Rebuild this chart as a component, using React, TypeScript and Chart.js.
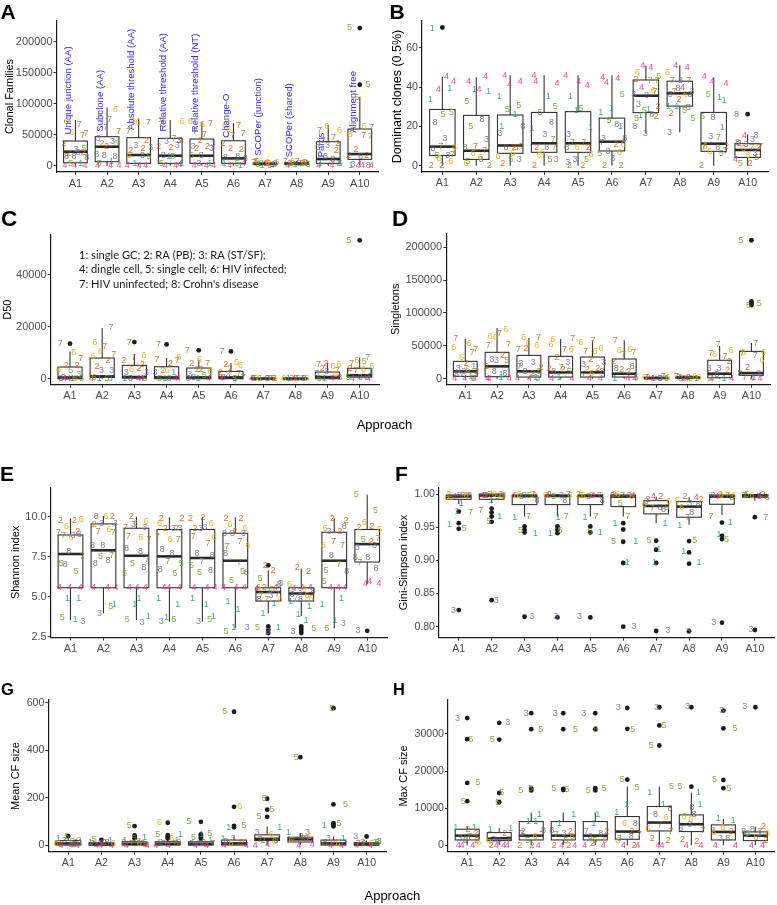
import React, { useEffect, useRef } from 'react';
import { Chart, registerables } from 'chart.js';
Chart.register(...registerables);

const FONT = '"Liberation Sans", Arial, Helvetica, sans-serif';
const CATS = ['A1', 'A2', 'A3', 'A4', 'A5', 'A6', 'A7', 'A8', 'A9', 'A10'];
const GROUP_COLORS = ['#1B9E77', '#D95F02', '#7570B3', '#E7298A', '#66A61E', '#E6AB02', '#A6761D', '#666666'];
const JIT = [-0.3, 0.12, 0.33, -0.12, 0.22, -0.36, 0.02, 0.27, -0.22, 0.08, -0.05, 0.36, -0.28, 0.17, -0.16, 0.3, -0.02, -0.33, 0.25, -0.09, 0.14, -0.25, 0.38];

// ---------- A: Clonal Families ----------
const A_YTICKS = [0, 50000, 100000, 150000, 200000];
const A_YLABELS = ['0', '50000', '100000', '150000', '200000'];
const A_Q1 = [4800, 6450, 3800, 3800, 3800, 3800, 2000, 2500, 3800, 10200];
const A_MED = [22600, 30600, 17200, 16100, 16100, 11800, 3000, 3500, 10800, 18800];
const A_Q3 = [39800, 46800, 45200, 44100, 43000, 40300, 4500, 5000, 38700, 59100];
const A_LO = [0, 0, 0, 0, 0, 0, 500, 500, 0, 1000];
const A_HI = [73600, 94000, 76300, 73600, 71000, 68300, 7000, 7500, 65600, 111300];
const A_OUT = [[10, 222000], [10, 130600]];
const A_PTS = [
  [[6,71000],[7,67000],[7,52000],[6,54000],[7,49000],[2,35000],[3,26000],[5,27000],[2,20000],[3,22000],[8,14500],[8,14000],[8,15000],[1,4000],[5,4000],[4,0],[4,0],[4,0],[2,21000]],
  [[6,91000],[6,83000],[7,74000],[7,62000],[7,55000],[3,44000],[3,38700],[2,36000],[5,36000],[2,30600],[8,18300],[8,14500],[8,16000],[1,6400],[5,3800],[4,0],[4,0],[4,0]],
  [[6,71000],[7,70000],[6,69000],[7,55000],[2,41000],[3,32000],[2,28000],[2,25000],[3,30000],[6,17000],[8,16000],[5,15000],[1,3800],[4,0],[4,0],[4,0]],
  [[6,74000],[6,71000],[7,67000],[7,44000],[2,40300],[3,38700],[3,32000],[2,30600],[2,29000],[3,40000],[8,17200],[5,15500],[1,14500],[1,3800],[5,3800],[4,0],[4,0],[4,1500]],
  [[6,71000],[6,66700],[7,68000],[7,54800],[7,49500],[2,41400],[3,36000],[3,30600],[2,30600],[2,28000],[3,27000],[8,17200],[5,16100],[1,3800],[3,3800],[4,0],[4,0],[4,0]],
  [[6,65600],[7,65000],[6,58600],[7,52100],[7,48000],[2,36000],[2,26300],[2,28000],[8,14500],[8,13500],[8,12000],[1,3800],[5,3800],[4,3800],[4,0],[1,0]],
  [[1,1000],[5,1000],[6,6000],[6,5500],[7,6000],[2,4000],[3,3000],[8,3500],[4,500],[7,4500],[2,3000],[1,1500],[5,2000],[6,5000]],
  [[6,6000],[6,5000],[7,7500],[7,6500],[2,4500],[3,3000],[8,4000],[1,1500],[5,1500],[4,500],[2,3500],[6,4000],[8,3000]],
  [[6,64000],[6,56400],[7,57000],[7,45200],[7,41000],[2,35000],[3,32300],[3,29000],[2,24000],[8,14500],[8,10200],[1,3800],[5,3800],[4,0],[4,0],[3,3800]],
  [[5,223000],[5,130600],[5,110000],[6,62900],[6,57500],[7,62000],[6,49500],[7,48000],[7,47000],[2,26900],[2,17200],[2,16000],[8,14500],[8,1000],[3,2500],[4,0],[4,0],[4,0],[1,500]],
];
const A_METHODS = ['Unique junction (AA)', 'Subclone (AA)', 'Absolute threshold (AA)', 'Relative threshold (AA)', 'Relative threshold (NT)', 'Change-O', 'SCOPer (junction)', 'SCOPer (shared)', 'Partis', 'Alignment free'];
const A_METHOD_Y = [50500, 54800, 57500, 55000, 54000, 45000, 16000, 13500, 13500, 53000];

// ---------- B: Dominant clones ----------
const B_YTICKS = [0, 20, 40, 60];
const B_YLABELS = ['0', '20', '40', '60'];
const B_Q1 = [5.2, 3.2, 6.3, 6.8, 6.8, 7.5, 27, 30.3, 7.3, 4.2];
const B_MED = [9.7, 7.6, 10.3, 11.4, 11.4, 12.2, 35.6, 36.8, 11.2, 8];
const B_Q3 = [28.6, 25.6, 25.8, 27.1, 27.5, 24.2, 43.6, 43, 27.1, 11.2];
const B_LO = [0, 0, 0, 0, 0, 0, 16.4, 17, 0, 0];
const B_HI = [45.3, 45, 46, 46, 46, 46, 51, 51, 45, 16];
const B_OUT = [[1, 70.3], [10, 26.2]];
const B_PTS = [
  [[1,70],[4,45.5],[4,43],[4,39],[1,39.5],[1,33.5],[5,26],[5,27],[8,22],[3,14],[7,10],[6,9.5],[8,8.5],[3,5],[5,5],[7,5.5],[2,0],[2,0],[6,2],[6,3.5]],
  [[4,45.5],[4,43],[4,39],[1,38.5],[1,37.5],[5,32.5],[8,23.5],[5,20],[3,13.5],[7,10],[8,9],[7,7.5],[6,6],[3,3],[5,2],[2,0],[6,1],[6,4]],
  [[4,46],[4,43],[4,41.5],[1,35],[5,30.5],[5,28.5],[1,26],[1,20],[8,20],[3,16.5],[2,9],[7,10],[8,9.5],[7,9],[6,4.5],[5,3],[3,3],[2,1],[6,6]],
  [[4,43],[4,42],[4,46],[1,35],[5,30],[5,27],[8,22],[1,19],[3,16],[7,13.5],[2,9.5],[8,9.5],[6,6.5],[3,3],[2,0],[5,3],[6,5],[7,9]],
  [[4,46],[4,43],[4,41],[1,35],[5,29],[1,28],[1,19.5],[3,16],[7,12],[7,12],[2,9.5],[6,9.5],[8,9.5],[5,3],[3,3],[2,0],[2,0],[6,5.5],[3,1.5]],
  [[4,45],[4,44.5],[4,42.5],[5,36],[1,29],[1,27],[1,20],[5,23],[8,21],[3,14],[8,14],[7,12],[2,11],[6,11],[3,7],[6,6.5],[5,6],[3,3.5],[2,0],[2,0]],
  [[4,51],[4,50],[6,47.5],[5,45.5],[2,44],[7,43.5],[7,43.5],[4,40],[6,38],[3,36],[8,35.5],[7,37.5],[3,31],[1,28.5],[5,28],[2,30],[5,24],[8,26],[1,25.5],[2,25],[3,16.5],[8,20]],
  [[4,51],[4,50],[6,47.5],[3,43.5],[7,43.5],[7,43.5],[4,40],[8,39.5],[3,37.5],[3,36],[6,36],[7,37.5],[8,36],[2,33.5],[1,30],[8,29.5],[1,30],[5,28],[2,26.5],[5,24],[3,17]],
  [[4,43],[4,42],[4,45.5],[1,34.5],[5,36],[1,33],[8,24.5],[5,25],[1,19.5],[3,15],[7,14.5],[6,10],[2,10],[7,9.5],[8,9.5],[3,7.5],[6,7],[5,6],[2,0]],
  [[8,26],[3,15.5],[4,15.5],[3,13.5],[2,11.5],[7,10],[8,12],[7,9.5],[2,9],[6,8.5],[3,6],[4,3],[6,5],[5,4.2],[5,1],[2,1],[3,11]],
];

// ---------- C: D50 ----------
const C_YTICKS = [0, 20000, 40000];
const C_YLABELS = ['0', '20000', '40000'];
const C_Q1 = [0, 500, 250, 0, 0, 0, 0, 0, 0, 600];
const C_MED = [500, 900, 640, 500, 500, 500, 50, 50, 640, 1300];
const C_Q3 = [4490, 7950, 5130, 4600, 4100, 2800, 150, 150, 2560, 4000];
const C_LO = [0, 0, 0, 0, 0, 0, 0, 0, 0, 0];
const C_HI = [10500, 19500, 9200, 7950, 7300, 6000, 300, 300, 6000, 8200];
const C_OUT = [[1, 13460], [3, 14100], [4, 13200], [5, 10900], [6, 10500], [10, 53200]];
const C_PTS = [
  [[7,13500],[6,10100],[7,7700],[2,5000],[2,5000],[6,3500],[5,3000],[3,1500],[3,600],[1,0],[4,0],[5,0],[8,0],[6,0],[4,0]],
  [[7,19500],[6,14100],[7,12400],[6,10300],[7,9200],[6,8500],[2,7000],[2,4500],[3,3200],[3,3200],[4,0],[8,0],[1,0],[5,0],[6,300]],
  [[7,14100],[6,9000],[7,8000],[2,6900],[2,5600],[6,3500],[2,3800],[3,2400],[3,2200],[1,0],[4,0],[5,0],[8,0],[4,200]],
  [[7,13200],[6,8000],[7,7200],[2,6000],[7,6900],[2,3100],[1,2400],[3,2400],[6,3100],[4,0],[5,0],[8,0],[1,0],[4,0]],
  [[7,10900],[6,7300],[7,6000],[2,5800],[2,3500],[2,3400],[6,2800],[3,1500],[5,1300],[8,300],[4,0],[1,0],[3,0]],
  [[7,10500],[6,6300],[2,5600],[6,5100],[2,3800],[2,2200],[7,1900],[3,1500],[1,0],[8,300],[7,300],[4,0],[5,0]],
  [[1,0],[3,0],[5,0],[6,100],[7,100],[8,0],[2,50],[6,50],[7,0],[4,0]],
  [[2,0],[3,0],[6,0],[7,100],[8,50],[1,0],[5,0],[4,0],[6,50]],
  [[2,6000],[6,5600],[7,5400],[6,4700],[2,3800],[7,3100],[3,2600],[3,1900],[6,1500],[1,0],[4,0],[5,0],[8,300]],
  [[5,53200],[7,8200],[6,6900],[5,6700],[7,6000],[6,4700],[2,3800],[6,3500],[1,2800],[7,3100],[8,300],[5,300],[3,600],[4,0],[4,0]],
];
const C_LEGEND = ['1: single GC; 2: RA (PB); 3: RA (ST/SF);', '4: dingle cell, 5: single cell; 6: HIV infected;', "7: HIV uninfected; 8: Crohn's disease"];

// ---------- D: Singletons ----------
const D_YTICKS = [0, 50000, 100000, 150000, 200000];
const D_YLABELS = ['0', '50000', '100000', '150000', '200000'];
const D_Q1 = [3550, 3050, 2500, 2500, 2500, 2500, 500, 1000, 1500, 5100];
const D_MED = [11200, 18800, 11200, 9600, 9600, 7600, 1000, 1800, 7600, 8600];
const D_Q3 = [26400, 40100, 35500, 34000, 33000, 30000, 2000, 2600, 28000, 41600];
const D_LO = [0, 0, 0, 0, 0, 0, 0, 0, 0, 0];
const D_HI = [60400, 77200, 62000, 60400, 58400, 58400, 3500, 4000, 50300, 54300];
const D_OUT = [[10, 210700], [10, 117800], [10, 115000], [10, 112000]];
const D_PTS = [
  [[7,60400],[6,53300],[7,44200],[6,33000],[7,40600],[6,47000],[2,22800],[1,18800],[3,15200],[6,13700],[3,11200],[2,11200],[8,6100],[1,3500],[3,6100],[4,0],[4,0],[4,0],[5,1000]],
  [[6,74600],[6,64500],[7,68500],[6,62000],[7,51800],[7,51000],[2,35500],[3,29000],[5,27400],[3,27000],[2,18800],[8,8600],[8,11200],[1,6100],[4,0],[4,0],[4,0],[1,2500]],
  [[6,62000],[7,63000],[6,53300],[7,44200],[6,50000],[2,45700],[3,24900],[3,22800],[2,17300],[7,17800],[2,8600],[5,11200],[8,10200],[1,2500],[4,0],[4,0],[3,1000]],
  [[6,59400],[7,60400],[6,51800],[7,44200],[6,44000],[2,31500],[3,23900],[2,16200],[7,17300],[5,11200],[8,10200],[2,13700],[1,2500],[4,0],[4,0]],
  [[6,55800],[7,57900],[6,46700],[7,41600],[6,42000],[2,28900],[3,23900],[3,22300],[2,15200],[2,13700],[8,10200],[6,8600],[5,6100],[4,0],[4,0]],
  [[7,58400],[6,44200],[6,42600],[7,40100],[7,37000],[2,26400],[8,18300],[2,13700],[2,11200],[8,16200],[5,2000],[1,1000],[4,0],[4,0]],
  [[1,500],[3,1000],[2,1500],[6,2000],[7,2500],[8,1000],[5,500],[4,0],[7,3000],[6,1500]],
  [[2,1000],[6,3000],[7,3000],[8,2000],[1,500],[3,1000],[5,500],[4,0],[6,2000],[7,1500]],
  [[7,51800],[6,43100],[7,38100],[7,34000],[6,37500],[2,26400],[3,16200],[3,16000],[2,12200],[8,6100],[1,1000],[4,0],[4,0],[5,1000]],
  [[5,210000],[5,115000],[5,111000],[7,54300],[6,40600],[6,40000],[7,38000],[7,36000],[6,27900],[2,17300],[3,8600],[8,8600],[4,0],[4,0],[7,2000],[1,1500]],
];

// ---------- E: Shannon index ----------
const E_YTICKS = [2.5, 5, 7.5, 10];
const E_YLABELS = ['2.5', '5.0', '7.5', '10.0'];
const E_Q1 = [5.56, 5.56, 5.56, 5.56, 5.56, 5.56, 4.73, 4.73, 5.56, 7.17];
const E_MED = [7.67, 7.9, 7.56, 7.52, 7.42, 7.25, 5.29, 5.2, 7.25, 8.29];
const E_Q3 = [8.86, 9.55, 9.28, 9.2, 9.2, 8.97, 5.56, 5.56, 9.03, 9.2];
const E_LO = [3.54, 3.96, 3.54, 3.44, 3.44, 3.03, 3.95, 3.8, 3.03, 5.8];
const E_HI = [9.9, 10.05, 10, 9.96, 10, 9.96, 6.65, 6.76, 9.9, 11.38];
const E_OUT = [[7, 6.96], [7, 3.14], [7, 2.94], [7, 2.73], [8, 3.14], [8, 3.0], [8, 2.87], [8, 2.73], [10, 2.87]];
const E_PTS = [
  [[2,9.75],[2,9.75],[6,9.85],[6,9.4],[2,9.05],[7,9.0],[6,8.7],[3,8.86],[7,8.85],[3,8.85],[8,7.85],[7,7.5],[5,7.1],[5,6.6],[8,7.0],[4,5.56],[4,5.56],[4,5.56],[1,4.9],[1,4.9],[1,3.6],[5,3.7],[3,3.45]],
  [[2,10],[8,10.02],[6,10.02],[3,9.6],[3,9.6],[2,9.5],[6,9.17],[7,9.05],[7,9.0],[8,8.2],[8,8.2],[7,7.6],[5,7.5],[8,7.25],[8,7.1],[4,5.56],[4,5.56],[4,5.6],[1,4.53],[3,3.97],[5,4.4]],
  [[2,10],[6,9.73],[6,9.6],[7,9.3],[3,9.34],[3,9.5],[6,8.72],[7,8.75],[7,8.55],[8,8.04],[8,7.8],[7,7.35],[5,7.05],[8,6.8],[5,6.45],[4,5.56],[4,5.56],[4,5.56],[1,4.9],[1,4.5],[1,3.78],[5,3.6],[3,3.4]],
  [[2,9.9],[2,9.9],[6,9.6],[3,9.28],[3,9.28],[2,9.28],[7,9.28],[7,8.75],[6,8.55],[7,8.55],[8,7.95],[8,7.7],[7,7.2],[5,7.1],[8,6.7],[5,6.45],[4,5.56],[4,5.56],[4,5.56],[1,4.9],[1,4.5],[1,3.7],[5,3.6],[3,3.45]],
  [[2,9.9],[2,9.95],[6,9.6],[2,9.28],[3,9.3],[3,9.28],[6,8.72],[7,8.75],[7,8.35],[8,7.7],[8,7.55],[7,7.2],[5,6.95],[8,6.65],[5,6.5],[4,5.56],[4,5.56],[4,5.56],[1,4.9],[1,4.5],[1,3.78],[3,3.44],[5,3.6]],
  [[2,9.9],[2,9.9],[6,9.5],[6,9.28],[2,9.07],[8,8.97],[3,8.97],[8,8.95],[7,8.45],[7,8.15],[6,8.2],[8,7.7],[7,7.15],[8,6.5],[5,6.0],[5,6.6],[4,5.56],[4,5.56],[4,5.56],[1,4.7],[1,4.2],[1,3.1],[3,3.1],[5,2.85]],
  [[2,6.96],[2,6.65],[5,6.15],[3,5.83],[6,5.6],[5,5.45],[8,5.75],[2,5.55],[4,5.56],[4,5.5],[1,5.4],[7,5.15],[7,5.1],[3,5.1],[7,4.85],[6,4.8],[8,4.85],[1,4.6],[1,3.95],[1,3.1],[3,2.8],[5,3.1]],
  [[2,6.8],[2,6.55],[6,5.75],[4,5.56],[4,5.56],[4,5.5],[6,5.45],[3,5.3],[8,5.35],[3,5.15],[6,5.05],[7,4.95],[6,4.9],[8,4.85],[1,4.7],[1,4.4],[1,3.9],[1,3.5],[3,2.8],[5,3.0]],
  [[2,9.9],[2,9.75],[6,9.28],[2,9.07],[3,9.07],[8,9.38],[7,8.45],[6,8.2],[7,8.2],[8,7.6],[7,7.0],[5,6.65],[8,6.55],[5,5.95],[4,5.56],[4,5.56],[4,5.56],[1,4.9],[1,4.5],[1,3.5],[3,3.3],[5,3.0]],
  [[5,11.4],[5,10.4],[6,9.63],[2,9.38],[2,9.35],[6,9.17],[3,8.1],[2,8.45],[7,8.66],[5,8.55],[3,8.2],[8,7.42],[8,7.45],[8,6.74],[7,7.15],[4,5.97],[4,5.8],[4,5.85],[3,2.87]],
];

// ---------- F: Gini-Simpson index ----------
const F_YTICKS = [0.8, 0.85, 0.9, 0.95, 1.0];
const F_YLABELS = ['0.80', '0.85', '0.90', '0.95', '1.00'];
const F_Q1 = [0.992, 0.992, 0.984, 0.984, 0.984, 0.981, 0.970, 0.965, 0.9845, 0.995];
const F_MED = [0.996, 0.9975, 0.997, 0.997, 0.997, 0.996, 0.982, 0.981, 0.996, 0.9975];
const F_Q3 = [0.9985, 1.0, 0.9985, 0.9985, 0.9985, 0.9985, 0.990, 0.9885, 0.9985, 0.9992];
const F_LO = [0.985, 0.986, 0.966, 0.966, 0.966, 0.966, 0.956, 0.9535, 0.9685, 0.99];
const F_HI = [1.0, 1.0, 1.0, 1.0, 1.0, 1.0, 0.996, 0.995, 1.0, 1.0];
const F_OUT = [[1,0.9735],[1,0.956],[1,0.9475],[1,0.825],[2,0.978],[2,0.972],[2,0.966],[2,0.958],[2,0.84],[3,0.951],[3,0.946],[3,0.942],[3,0.815],[4,0.951],[4,0.946],[4,0.941],[4,0.814],[5,0.951],[5,0.942],[5,0.814],[6,0.956],[6,0.9465],[6,0.928],[6,0.896],[6,0.80],[7,0.9295],[7,0.916],[7,0.896],[7,0.7935],[8,0.929],[8,0.912],[8,0.895],[8,0.793],[9,0.957],[9,0.937],[9,0.932],[9,0.806],[10,0.965],[10,0.795]];
const F_PTS = [
  [[2,0.999],[2,0.997],[3,0.998],[4,0.996],[6,0.997],[6,0.995],[8,0.998],[7,0.996],[5,0.994],[1,0.985],[1,0.9735],[7,0.9725],[1,0.9545],[5,0.9475],[3,0.825]],
  [[2,0.999],[3,0.998],[6,0.999],[7,0.9985],[8,0.997],[4,0.997],[5,0.996],[2,0.998],[6,0.997],[1,0.9895],[7,0.975],[1,0.966],[5,0.9585],[3,0.84]],
  [[6,0.999],[2,0.998],[3,0.997],[4,0.998],[7,0.9985],[8,0.996],[5,0.997],[6,0.998],[8,0.9895],[1,0.965],[7,0.966],[1,0.941],[5,0.9445],[3,0.815]],
  [[2,0.999],[6,0.998],[4,0.997],[3,0.998],[7,0.999],[5,0.996],[8,0.9895],[6,0.997],[1,0.965],[7,0.966],[1,0.941],[5,0.9445],[3,0.815]],
  [[2,0.999],[2,0.998],[7,0.998],[6,0.997],[4,0.998],[3,0.996],[8,0.99],[5,0.997],[7,0.966],[1,0.965],[1,0.942],[5,0.943],[3,0.815]],
  [[2,0.999],[3,0.998],[6,0.999],[4,0.997],[7,0.998],[8,0.997],[6,0.996],[5,0.986],[7,0.966],[1,0.956],[1,0.928],[5,0.928],[1,0.896],[3,0.80]],
  [[4,0.996],[2,0.9955],[2,0.991],[6,0.9885],[3,0.9885],[8,0.979],[5,0.98],[7,0.978],[8,0.976],[6,0.984],[7,0.966],[1,0.955],[5,0.9295],[1,0.916],[1,0.896],[3,0.7935]],
  [[2,0.996],[4,0.995],[6,0.99],[3,0.986],[8,0.984],[6,0.98],[8,0.972],[7,0.965],[2,0.992],[1,0.9525],[5,0.9295],[1,0.9135],[1,0.896],[3,0.793]],
  [[2,0.999],[6,0.998],[3,0.997],[7,0.998],[4,0.996],[8,0.995],[6,0.997],[7,0.966],[1,0.9575],[1,0.9385],[5,0.932],[3,0.806]],
  [[1,0.997],[2,0.999],[6,0.998],[4,0.997],[5,0.999],[8,0.994],[7,0.998],[3,0.996],[7,0.965],[3,0.795]],
];

// ---------- G: Mean CF size ----------
const G_YTICKS = [0, 200, 400, 600];
const G_YLABELS = ['0', '200', '400', '600'];
const G_Q1 = [1, 1, 1, 1, 1, 1, 20, 14, 1, 1];
const G_MED = [8, 4, 6, 6, 6, 8, 27, 25, 8, 4];
const G_Q3 = [20, 11, 15, 15, 15, 22, 44, 34, 22, 11];
const G_LO = [0, 0, 0, 0, 0, 0, 0, 0, 0, 0];
const G_HI = [30, 20, 24, 24, 24, 37, 79, 51, 37, 20];
const G_OUT = [[1,39],[2,23],[3,81],[3,42],[3,36],[3,30],[4,95],[4,43],[4,35],[4,29],[5,99],[5,46],[5,40],[5,33],[5,28],[6,562],[6,162],[6,82],[6,76],[7,196],[7,150],[7,120],[8,371],[9,577],[9,172],[9,93],[9,88],[9,80],[10,37]];
const G_PTS = [
  [[1,30],[5,18],[2,20],[3,19],[8,11],[6,6],[7,6],[4,0],[4,0],[4,1],[5,39],[1,12],[2,8],[8,4]],
  [[1,20],[5,23],[2,11],[3,8],[6,6],[7,6],[8,11],[4,0],[4,0],[4,1],[1,13]],
  [[5,82],[1,34],[5,30],[2,11],[3,8],[7,6],[6,6],[4,0],[4,0],[1,22],[8,14],[2,4]],
  [[6,95],[1,44],[5,46],[6,28],[2,11],[3,9],[7,6],[4,0],[4,0],[1,20],[8,13]],
  [[5,100],[1,44],[5,50],[5,34],[2,11],[3,9],[7,6],[8,8],[4,0],[4,0],[1,20]],
  [[5,562],[6,163],[1,76],[5,82],[3,30],[1,30],[2,11],[6,6],[7,6],[8,15],[4,0],[4,0]],
  [[5,196],[5,151],[5,120],[1,76],[3,55],[6,44],[7,34],[2,22],[6,15],[4,0],[4,2],[8,22],[7,25]],
  [[5,371],[3,55],[1,55],[8,37],[6,37],[7,22],[2,30],[4,0],[4,2],[6,20],[3,28]],
  [[5,577],[5,172],[1,83],[5,93],[3,30],[1,30],[2,8],[7,6],[4,0],[4,0],[6,6],[8,11]],
  [[3,37],[1,11],[2,8],[6,6],[7,8],[8,15],[4,0],[4,0],[5,10],[3,12]],
];

// ---------- H: Max CF size ----------
const H_YTICKS = [0, 10000, 20000, 30000];
const H_YLABELS = ['0', '10000', '20000', '30000'];
const H_Q1 = [1440, 1260, 1440, 1440, 1440, 1620, 3870, 3700, 1440, 1260];
const H_MED = [2600, 1890, 2600, 2600, 2600, 3700, 6130, 5680, 3600, 2600];
const H_Q3 = [4330, 3420, 6400, 6400, 6400, 7750, 10450, 8200, 5500, 3600];
const H_LO = [0, 0, 0, 0, 0, 0, 0, 0, 0, 0];
const H_HI = [5050, 4600, 8830, 8830, 8830, 15860, 15860, 14240, 7100, 5000];
const H_OUT = [[1,34300],[1,28600],[1,16800],[1,11900],[2,33000],[2,28500],[2,14100],[2,11600],[3,35600],[3,31300],[3,15300],[3,14800],[4,35600],[4,31300],[4,15200],[4,14900],[5,35600],[5,31300],[5,15400],[5,14800],[6,37000],[6,31400],[6,17700],[7,37200],[7,32300],[7,26900],[8,37200],[8,15800],[9,36300],[9,31500],[9,17600],[9,15400],[10,37200]];
const H_PTS = [
  [[3,34300],[5,28600],[5,16800],[5,11900],[1,4900],[1,4900],[2,4300],[2,3200],[3,1900],[7,2300],[8,1400],[6,700],[4,0],[4,0],[4,0],[2,1300],[7,1600]],
  [[3,33000],[5,28500],[5,14100],[5,11600],[1,4600],[1,4300],[2,3200],[3,1600],[7,1600],[8,1400],[6,1400],[4,0],[4,0],[4,0],[2,0]],
  [[3,35600],[5,31300],[5,15300],[5,14800],[1,8400],[1,6400],[1,6400],[2,3600],[8,4000],[3,3100],[6,2300],[7,2800],[5,1400],[4,0],[2,0],[2,0]],
  [[3,35600],[5,31300],[5,15200],[5,14900],[1,8400],[1,6000],[2,3600],[8,4000],[3,3100],[6,2300],[7,2800],[5,1400],[4,0],[4,0],[2,0],[2,0]],
  [[3,35600],[5,31300],[5,15400],[5,14800],[1,8400],[1,6000],[2,3600],[7,3800],[8,3100],[3,2300],[6,1400],[5,1400],[4,0],[4,0],[2,500]],
  [[3,37100],[5,31300],[5,17700],[5,15500],[1,11100],[1,8800],[8,6000],[6,5900],[2,3700],[3,1900],[7,2800],[6,1400],[8,2500],[4,0],[4,0],[2,0]],
  [[3,37200],[5,32300],[5,26900],[5,15800],[1,14300],[1,11100],[8,10000],[8,8200],[6,7500],[6,4600],[7,5500],[2,1400],[2,1900],[4,0],[4,0],[7,3700]],
  [[3,37300],[1,14200],[5,15800],[8,10300],[1,11100],[6,7700],[8,8400],[3,5500],[7,4000],[2,1600],[2,1000],[4,0],[4,0],[6,7000],[3,4500]],
  [[3,36400],[5,31500],[5,17600],[5,15300],[1,7100],[1,6800],[6,4900],[7,3900],[2,3600],[3,1900],[8,1900],[4,0],[4,0],[6,3400]],
  [[3,37300],[2,5000],[8,4300],[7,3700],[5,3200],[6,3100],[1,2800],[3,3200],[2,1400],[4,0],[4,0],[8,3600],[6,2000]],
];

// ---------- drawing helpers ----------
function drawVText(ctx, text, x, y, size, color) {
  ctx.save();
  ctx.translate(x, y);
  ctx.rotate(-Math.PI / 2);
  ctx.font = `${size}px ${FONT}`;
  ctx.fillStyle = color;
  ctx.textAlign = 'center';
  ctx.textBaseline = 'middle';
  ctx.fillText(text, 0, 0);
  ctx.restore();
}
function drawText(ctx, text, x, y, font, color, align = 'center') {
  ctx.save();
  ctx.font = font;
  ctx.fillStyle = color;
  ctx.textAlign = align;
  ctx.textBaseline = 'middle';
  ctx.fillText(text, x, y);
  ctx.restore();
}

const extraA = (chart) => {
  const ctx = chart.ctx, xs = chart.scales.x, ys = chart.scales.y;
  ctx.save();
  ctx.font = `9.6px ${FONT}`;
  ctx.fillStyle = '#2f2ff0';
  ctx.textAlign = 'left';
  ctx.textBaseline = 'middle';
  A_METHODS.forEach((m, i) => {
    ctx.save();
    ctx.translate(xs.getPixelForValue(i + 1 - 0.22), ys.getPixelForValue(A_METHOD_Y[i]));
    ctx.rotate(-Math.PI / 2);
    ctx.fillText(m, 0, 0);
    ctx.restore();
  });
  ctx.restore();
};
const extraC = (chart) => {
  const ctx = chart.ctx;
  ctx.save();
  ctx.font = `10px Lato, "Noto Sans", sans-serif`;
  const w = ctx.measureText(C_LEGEND[1]).width;
  const size = 10 * 208 / w;
  ctx.font = `${size}px Lato, "Noto Sans", sans-serif`;
  ctx.fillStyle = '#1a1a1a';
  ctx.textAlign = 'left';
  ctx.textBaseline = 'middle';
  [255.7, 269.9, 284.7].forEach((y, i) => ctx.fillText(C_LEGEND[i], 79, y));
  ctx.restore();
  drawText(ctx, 'Approach', 384.5, 425, `13px ${FONT}`, '#000');
};
const extraG = (chart) => {
  drawText(chart.ctx, 'Approach', 392.3, 896.5, `13px ${FONT}`, '#000');
};

const PANELS = [
  { key: 'A', area: [56.5, 21, 378.8, 172], yMin: -10160, yMax: 233390, yTicks: A_YTICKS, yLabels: A_YLABELS,
    q1: A_Q1, med: A_MED, q3: A_Q3, lo: A_LO, hi: A_HI, out: A_OUT, pts: A_PTS,
    title: 'Clonal Families', titlePos: [9.5, 96.5], titleSize: 11, letterPos: [0.5, 18.5], letterSize: 21, tickSize: 11, extra: extraA },
  { key: 'B', area: [422, 21, 768, 172], yMin: -3.2, yMax: 73.6, yTicks: B_YTICKS, yLabels: B_YLABELS,
    q1: B_Q1, med: B_MED, q3: B_Q3, lo: B_LO, hi: B_HI, out: B_OUT, pts: B_PTS,
    title: 'Dominant clones (0.5%)', titlePos: [398, 96.5], titleSize: 12.5, letterPos: [389.5, 18.5], letterSize: 21, tickSize: 10.6 },
  { key: 'C', area: [50.7, 234.7, 379, 384.7], yMin: -2308, yMax: 55380, yTicks: C_YTICKS, yLabels: C_YLABELS,
    q1: C_Q1, med: C_MED, q3: C_Q3, lo: C_LO, hi: C_HI, out: C_OUT, pts: C_PTS,
    title: 'D50', titlePos: [8.3, 309.7], titleSize: 11, letterPos: [1, 226.3], letterSize: 22.5, tickSize: 11, extra: extraC },
  { key: 'D', area: [446.2, 234, 770.5, 384.7], yMin: -9132, yMax: 220230, yTicks: D_YTICKS, yLabels: D_YLABELS,
    q1: D_Q1, med: D_MED, q3: D_Q3, lo: D_LO, hi: D_HI, out: D_OUT, pts: D_PTS,
    title: 'Singletons', titlePos: [396.3, 309.3], titleSize: 11, letterPos: [392, 226.3], letterSize: 22.5, tickSize: 11 },
  { key: 'E', area: [50.7, 487.3, 387, 637.5], yMin: 2.45, yMax: 11.84, yTicks: E_YTICKS, yLabels: E_YLABELS,
    q1: E_Q1, med: E_MED, q3: E_Q3, lo: E_LO, hi: E_HI, out: E_OUT, pts: E_PTS,
    title: 'Shannon index', titlePos: [15.8, 562.4], titleSize: 11, letterPos: [0, 481], letterSize: 21, tickSize: 11 },
  { key: 'F', area: [439, 487.3, 775, 637.7], yMin: 0.7834, yMax: 1.0101, yTicks: F_YTICKS, yLabels: F_YLABELS,
    q1: F_Q1, med: F_MED, q3: F_Q3, lo: F_LO, hi: F_HI, out: F_OUT, pts: F_PTS,
    title: 'Gini-Simpson index', titlePos: [404, 562.5], titleSize: 11, letterPos: [395, 481], letterSize: 21, tickSize: 10.6 },
  { key: 'G', area: [48.4, 700, 386.5, 851.7], yMin: -26.9, yMax: 611.4, yTicks: G_YTICKS, yLabels: G_YLABELS,
    q1: G_Q1, med: G_MED, q3: G_Q3, lo: G_LO, hi: G_HI, out: G_OUT, pts: G_PTS,
    title: 'Mean CF size', titlePos: [16, 776], titleSize: 11, letterPos: [1, 694.5], letterSize: 16.5, tickSize: 10.6, extra: extraG },
  { key: 'H', area: [448, 700, 776, 851.7], yMin: -1725, yMax: 39160, yTicks: H_YTICKS, yLabels: H_YLABELS,
    q1: H_Q1, med: H_MED, q3: H_Q3, lo: H_LO, hi: H_HI, out: H_OUT, pts: H_PTS,
    title: 'Max CF size', titlePos: [404, 776], titleSize: 11, letterPos: [393, 695], letterSize: 16.5, tickSize: 10.6 },
];

function Panel({ cfg }) {
  const ref = useRef(null);
  useEffect(() => {
    const canvas = ref.current;
    const [l, t, r, b] = cfg.area;
    const WY = 46, HX = 30;
    const outData = cfg.out.map(([c, v]) => ({ x: c, y: v }));
    const lblData = [];
    cfg.pts.forEach((arr, a) => arr.forEach(([g, v], k) => {
      lblData.push({ x: a + 1 + JIT[(k + a * 7) % JIT.length], y: v, g });
    }));
    const tickFont = { family: FONT, size: cfg.tickSize };

    const boxPlugin = {
      id: 'boxes' + cfg.key,
      beforeDatasetsDraw(chart) {
        const ctx = chart.ctx, xs = chart.scales.x, ys = chart.scales.y;
        const u = xs.getPixelForValue(2) - xs.getPixelForValue(1);
        const hw = u * 0.375;
        ctx.save();
        for (let i = 0; i < CATS.length; i++) {
          const xc = xs.getPixelForValue(i + 1);
          const y1 = ys.getPixelForValue(cfg.q1[i]);
          const y3 = ys.getPixelForValue(cfg.q3[i]);
          const ym = ys.getPixelForValue(cfg.med[i]);
          const ylo = ys.getPixelForValue(cfg.lo[i]);
          const yhi = ys.getPixelForValue(cfg.hi[i]);
          ctx.strokeStyle = '#333333';
          ctx.lineWidth = 1.1;
          ctx.beginPath();
          ctx.moveTo(xc, yhi); ctx.lineTo(xc, y3);
          ctx.moveTo(xc, y1); ctx.lineTo(xc, ylo);
          ctx.stroke();
          ctx.fillStyle = '#ffffff';
          ctx.fillRect(xc - hw, y3, 2 * hw, y1 - y3);
          ctx.strokeRect(xc - hw, y3, 2 * hw, y1 - y3);
          ctx.lineWidth = 2.6;
          ctx.strokeStyle = '#2a2a2a';
          ctx.beginPath();
          ctx.moveTo(xc - hw, ym); ctx.lineTo(xc + hw, ym);
          ctx.stroke();
        }
        ctx.restore();
      },
      afterDatasetsDraw(chart) {
        const ctx = chart.ctx, xs = chart.scales.x, ys = chart.scales.y;
        ctx.save();
        ctx.font = `9px ${FONT}`;
        ctx.textAlign = 'center';
        ctx.textBaseline = 'middle';
        ctx.globalAlpha = 0.88;
        for (const p of lblData) {
          ctx.fillStyle = GROUP_COLORS[p.g - 1];
          ctx.fillText(String(p.g), xs.getPixelForValue(p.x), ys.getPixelForValue(p.y));
        }
        ctx.restore();
      },
      afterDraw(chart) {
        const ctx = chart.ctx;
        drawVText(ctx, cfg.title, cfg.titlePos[0], cfg.titlePos[1], cfg.titleSize, '#000');
        ctx.save();
        ctx.font = `bold ${cfg.letterSize}px ${FONT}`;
        ctx.fillStyle = '#000';
        ctx.textAlign = 'left';
        ctx.textBaseline = 'alphabetic';
        ctx.fillText(cfg.key, cfg.letterPos[0], cfg.letterPos[1]);
        ctx.restore();
        if (cfg.extra) cfg.extra(chart);
      },
    };

    const chart = new Chart(canvas, {
      type: 'scatter',
      data: {
        datasets: [
          { data: outData, pointRadius: 2.4, pointHoverRadius: 2.4, pointBackgroundColor: '#1c1c1c', pointBorderWidth: 0, showLine: false },
          { data: lblData, pointRadius: 0, pointHoverRadius: 0, showLine: false },
        ],
      },
      options: {
        animation: false,
        responsive: false,
        devicePixelRatio: 1,
        events: [],
        layout: { padding: { left: l - WY, top: t, right: 777 - r, bottom: 905 - b - HX } },
        plugins: { legend: { display: false }, tooltip: { enabled: false }, title: { display: false } },
        scales: {
          x: {
            type: 'linear', min: 0.4, max: 10.6,
            afterBuildTicks: (s) => { s.ticks = CATS.map((_, i) => ({ value: i + 1 })); },
            afterFit: (s) => { s.height = HX; },
            ticks: { callback: (v) => CATS[Math.round(Number(v)) - 1] || '', font: tickFont, color: '#4D4D4D', padding: 2, autoSkip: false, maxRotation: 0, minRotation: 0 },
            grid: { display: true, drawOnChartArea: false, drawTicks: true, tickLength: 3, color: '#333333' },
            border: { display: true, color: '#1a1a1a', width: 1.2 },
          },
          y: {
            type: 'linear', min: cfg.yMin, max: cfg.yMax,
            afterBuildTicks: (s) => { s.ticks = cfg.yTicks.map((v) => ({ value: v })); },
            afterFit: (s) => { s.width = WY; },
            ticks: {
              callback: (v) => { const i = cfg.yTicks.indexOf(Number(v)); return i >= 0 ? cfg.yLabels[i] : ''; },
              font: tickFont, color: '#4D4D4D', padding: 1, autoSkip: false,
            },
            grid: { display: true, drawOnChartArea: false, drawTicks: true, tickLength: 3, color: '#333333' },
            border: { display: true, color: '#1a1a1a', width: 1.2 },
          },
        },
      },
      plugins: [boxPlugin],
    });
    return () => chart.destroy();
  }, []);
  return (
    <canvas ref={ref} width={777} height={905}
      style={{ position: 'absolute', left: 0, top: 0, width: 777, height: 905 }} />
  );
}

export default function App() {
  return (
    <div style={{ position: 'absolute', left: 0, top: 0, width: 777, height: 905, background: '#fff', overflow: 'hidden' }}>
      {PANELS.map((p) => <Panel key={p.key} cfg={p} />)}
    </div>
  );
}
